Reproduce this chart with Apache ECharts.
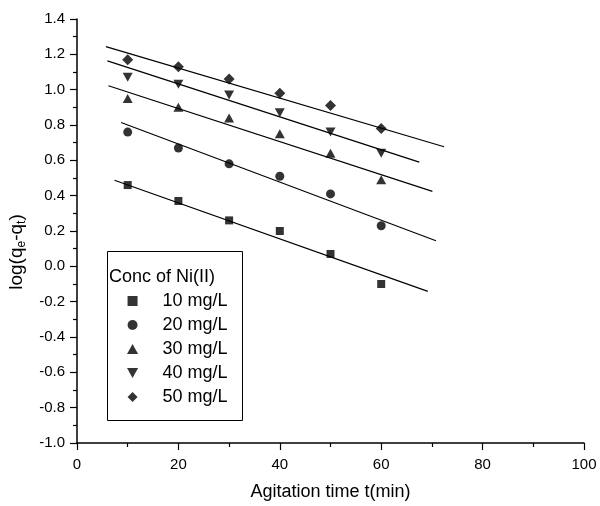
<!DOCTYPE html>
<html>
<head>
<meta charset="utf-8">
<script src="https://cdn.jsdelivr.net/npm/echarts@6/dist/echarts.min.js"></script>
<style>
  html, body { margin: 0; padding: 0; background: #fff; }
  #grafico { width: 600px; height: 506px; }
</style>
</head>
<body>
<div id="grafico"></div>
<script>
	// DADOS
	var tempos = [10, 20, 30, 40, 50, 60];
	var nomes = ['10 mg/L', '20 mg/L', '30 mg/L', '40 mg/L', '50 mg/L'];
	var conc10 = [0.46, 0.37, 0.26, 0.20, 0.07, -0.10];
	var conc20 = [0.76, 0.67, 0.58, 0.51, 0.41, 0.23];
	var conc30 = [0.95, 0.90, 0.84, 0.75, 0.64, 0.49];
	var conc40 = [1.07, 1.03, 0.97, 0.87, 0.76, 0.64];
	var conc50 = [1.17, 1.13, 1.06, 0.98, 0.91, 0.78];
	// extremos das retas de ajuste [x, y]
	var reta10 = [[7.4, 0.487], [69.2, -0.142]];
	var reta20 = [[8.7, 0.814], [70.8, 0.145]];
	var reta30 = [[6.2, 1.022], [70.1, 0.424]];
	var reta40 = [[6.0, 1.163], [67.5, 0.590]];
	var reta50 = [[5.7, 1.244], [72.4, 0.677]];
	var ticksX = [0, 20, 40, 60, 80, 100];
	var ticksY = [-1.0, -0.8, -0.6, -0.4, -0.2, 0.0, 0.2, 0.4, 0.6, 0.8, 1.0, 1.2, 1.4];

	var valores = [conc10, conc20, conc30, conc40, conc50];
	var retas = [reta10, reta20, reta30, reta40, reta50];
	var simbolos = [
		'path://M0,0 L10,0 L10,10 L0,10 Z',
		'circle',
		'path://M5,0 L10,9 L0,9 Z',
		'path://M0,0 L10,0 L5,9 Z',
		'path://M5,0 L10,5 L5,10 L0,5 Z'
	];
	var tamanhos = [8, 9, [10, 9], [10, 9], 11];

	var fonte = 'Liberation Sans, Arial, sans-serif';
	var series = [];

	for (var i = 0; i < nomes.length; i++) {
		var pontos = [];
		for (var j = 0; j < tempos.length; j++) {
			pontos.push([tempos[j], valores[i][j]]);
		}
		series.push({
			name: nomes[i],
			type: 'scatter',
			symbol: simbolos[i],
			symbolSize: tamanhos[i],
			itemStyle: { color: '#000' },
			data: pontos,
			z: 3
		});
		series.push({
			name: 'reta' + i,
			type: 'line',
			symbol: 'none',
			lineStyle: { color: '#000', width: 1.2 },
			data: retas[i],
			z: 2
		});
	}

	var myChart = echarts.init(document.getElementById('grafico'));

	var option = {
		animation: false,
		backgroundColor: '#fff',
		textStyle: { fontFamily: fonte },
		grid: { left: 77, right: 16, top: 19, bottom: 61 },
		xAxis: {
			type: 'value',
			min: ticksX[0],
			max: ticksX[ticksX.length - 1],
			interval: 20,
			name: 'Agitation time t(min)',
			nameLocation: 'middle',
			nameGap: 40,
			nameTextStyle: { color: '#000', fontSize: 18, fontFamily: fonte },
			axisLine: { onZero: false, lineStyle: { color: '#000', width: 1.5 } },
			axisTick: { inside: false, length: 7, lineStyle: { color: '#000', width: 1.2 } },
			minorTick: { show: true, splitNumber: 2, length: 4, lineStyle: { color: '#000', width: 1.2 } },
			axisLabel: { color: '#000', fontSize: 15, margin: 14, fontFamily: fonte },
			splitLine: { show: false }
		},
		yAxis: {
			type: 'value',
			min: ticksY[0],
			max: ticksY[ticksY.length - 1],
			interval: 0.2,
			axisLine: { onZero: false, lineStyle: { color: '#000', width: 1.5 } },
			axisTick: { inside: false, length: 7, lineStyle: { color: '#000', width: 1.2 } },
			minorTick: { show: true, splitNumber: 2, length: 4, lineStyle: { color: '#000', width: 1.2 } },
			axisLabel: {
				color: '#000', fontSize: 15, margin: 12, fontFamily: fonte,
				formatter: function (v) { return v.toFixed(1); }
			},
			splitLine: { show: false }
		},
		legend: {
			data: nomes,
			orient: 'vertical',
			left: 127,
			top: 292,
			padding: 0,
			itemWidth: 50,
			itemHeight: 10,
			itemGap: 6,
			symbolKeepAspect: true,
			z: 80,
			textStyle: { color: '#000', fontSize: 18, fontFamily: fonte },
			selectedMode: false
		},
		graphic: [
			{
				type: 'rect',
				shape: { x: 107.5, y: 251.5, width: 135, height: 169 },
				style: { fill: 'none', stroke: '#000', lineWidth: 1 },
				z: 1
			},
			{
				type: 'text',
				left: 109,
				top: 268,
				style: { text: 'Conc of Ni(II)', fill: '#000', fontSize: 18, fontFamily: fonte },
				z: 60
			},
			{
				type: 'text',
				x: 17,
				y: 252,
				rotation: Math.PI / 2,
				style: {
					text: 'log(q{s|e}-q{s|t})',
					fill: '#000',
					fontSize: 19,
					fontFamily: fonte,
					align: 'center',
					verticalAlign: 'middle',
					rich: {
						s: { fontSize: 12, fontFamily: fonte, fill: '#000', padding: [9, 0, 0, 0] }
					}
				},
				z: 60
			}
		],
		series: series
	};
	// aplico as alterações de layout no chart
	myChart.setOption(option);
</script>
</body>
</html>
